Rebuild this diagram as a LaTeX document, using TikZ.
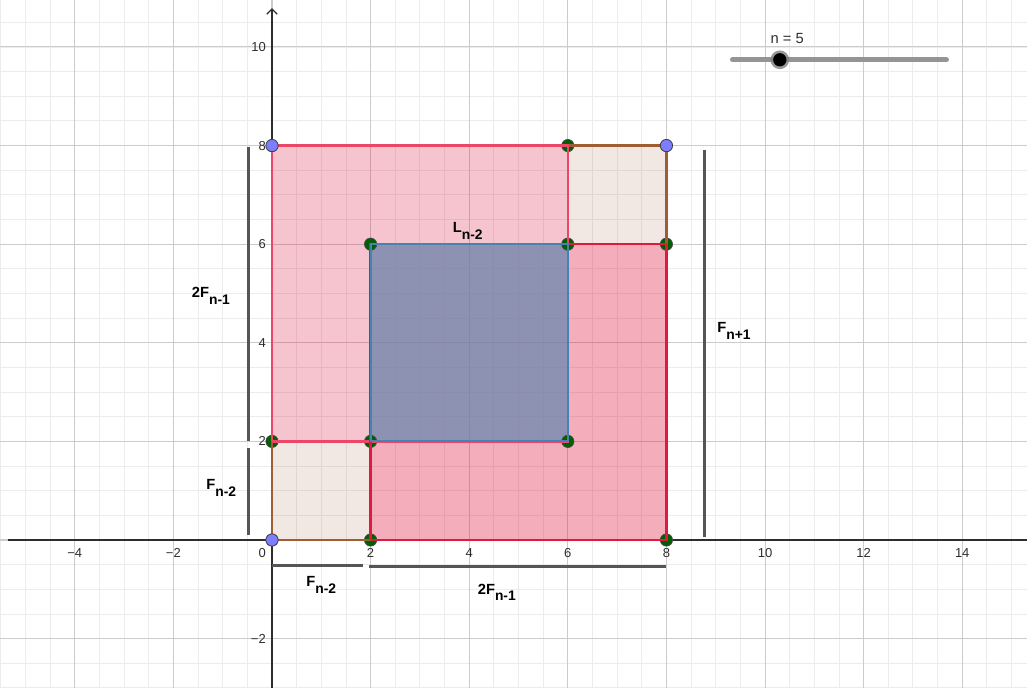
\documentclass[tikz,border=0pt]{standalone}
\usepackage{fontspec}
\setmainfont{Liberation Sans}
\usetikzlibrary{arrows.meta}
\definecolor{gminor}{RGB}{236,236,236}
\definecolor{gmajor}{RGB}{204,204,204}
\definecolor{tickgray}{RGB}{45,45,45}
\definecolor{crim}{RGB}{220,20,60}
\definecolor{edgered}{RGB}{225,25,60}
\definecolor{edgepink}{RGB}{236,70,105}
\definecolor{sienna}{RGB}{160,82,45}
\definecolor{edgebrown}{RGB}{160,92,50}
\definecolor{steel}{RGB}{70,130,180}
\definecolor{bluefill}{RGB}{80,153,193}
\definecolor{ptgreen}{RGB}{0,95,0}
\definecolor{ptblue}{RGB}{125,125,255}
\definecolor{dimgray}{RGB}{85,85,85}
\newcommand{\sublbl}[2]{#1\raisebox{-3.9pt}{\fontsize{8}{9}\selectfont #2}}

\begin{document}
\begin{tikzpicture}[
    ticklbl/.style={font=\fontsize{7.5}{9}\selectfont, text=tickgray, inner sep=0pt},
    lbl/.style={font=\fontsize{8.5}{10}\selectfont\bfseries, inner sep=0pt},
    dimline/.style={line width=1.7pt, draw=dimgray},
    gpt/.style={circle, fill=ptgreen, draw=black!70, line width=0.4pt, minimum size=0.25cm, inner sep=0pt},
    bpt/.style={circle, fill=ptblue, draw=black!75, line width=0.5pt, minimum size=0.25cm, inner sep=0pt}
  ]
  \useasboundingbox (-5.517,-3.002) rectangle (15.314,10.953);
  \draw[gminor, line width=0.5pt, step=0.5] (-5.517,-3.002) grid (15.314,10.953);
  \draw[gmajor, line width=0.6pt, step=2] (-5.517,-3.002) grid (15.314,10.953);
  \draw[tickgray, line width=0.8pt] (-5.355,0) -- (15.314,0);
  \draw[tickgray, line width=0.8pt, -{Straight Barb[length=3pt,width=6pt]}] (0,-3.002) -- (0,10.79);
  \foreach \x/\t in {-4/−4,-2/−2,2/2,4/4,6/6,8/8,10/10,12/12,14/14}
    \node[ticklbl] (tx\x) at (\x,-0.27) {\t};
  \node[ticklbl] (t0) at (-0.2,-0.27) {0};
  \foreach \y/\t in {-2/−2,2/2,4/4,6/6,8/8,10/10}
    \node[ticklbl, anchor=east] (ty\y) at (-0.12,\y) {\t};

  \coordinate (p00) at (0,0);
  \coordinate (p20) at (2,0);
  \coordinate (p80) at (8,0);
  \coordinate (p02) at (0,2);
  \coordinate (p22) at (2,2);
  \coordinate (p62) at (6,2);
  \coordinate (p26) at (2,6);
  \coordinate (p66) at (6,6);
  \coordinate (p86) at (8,6);
  \coordinate (p08) at (0,8);
  \coordinate (p68) at (6,8);
  \coordinate (p88) at (8,8);

  \fill[crim, fill opacity=0.25] (p02) rectangle (p68);
  \fill[crim, fill opacity=0.35] (p20) rectangle (p86);
  \fill[bluefill, fill opacity=0.6] (p22) rectangle (p66);
  \fill[sienna, fill opacity=0.135] (p00) rectangle (p22);
  \fill[sienna, fill opacity=0.135] (p66) rectangle (p88);

  \foreach \p in {p20,p80,p02,p22,p62,p26,p66,p86,p68}
    \node[gpt] (g\p) at (\p) {};

  \draw[edgebrown, line width=1.5pt] (p02) -- (p00) -- (p20);
  \draw[edgebrown, line width=1.5pt] (p68) -- (p88) -- (p86);
  \draw[edgepink, line width=1.4pt] (p02) -- (p08) -- (p68) -- (p62) -- (p02);
  \draw[edgered, line width=1.4pt] (p20) -- (p80) -- (p86) -- (p26) -- (p20);
  \draw[steel, line width=1.2pt] (p22) rectangle (p66);

  \foreach \p in {p00,p08,p88}
    \node[bpt] (b\p) at (\p) {};

  \coordinate (d1a) at (-0.47,7.98);
  \coordinate (d1b) at (-0.47,2.0);
  \coordinate (d2a) at (-0.48,1.87);
  \coordinate (d2b) at (-0.48,0.1);
  \coordinate (d3a) at (0,-0.51);
  \coordinate (d3b) at (1.84,-0.51);
  \coordinate (d4a) at (1.97,-0.53);
  \coordinate (d4b) at (7.99,-0.53);
  \coordinate (d5a) at (8.77,7.92);
  \coordinate (d5b) at (8.77,0.06);
  \draw[dimline] (d1a) -- (d1b);
  \draw[dimline] (d2a) -- (d2b);
  \draw[dimline] (d3a) -- (d3b);
  \draw[dimline] (d4a) -- (d4b);
  \draw[dimline] (d5a) -- (d5b);

  \node[lbl] (Lsq) at (3.97,6.27) {\sublbl{L}{n-2}};
  \node[lbl] (Fl) at (-1.24,4.95) {\sublbl{2F}{n-1}};
  \node[lbl] (Fls) at (-1.03,1.05) {\sublbl{F}{n-2}};
  \node[lbl] (Fbs) at (1.0,-0.91) {\sublbl{F}{n-2}};
  \node[lbl] (Fb) at (4.56,-1.06) {\sublbl{2F}{n-1}};
  \node[lbl] (Fr) at (9.37,4.24) {\sublbl{F}{n+1}};

  \coordinate (s1) at (9.34,9.74);
  \coordinate (s2) at (13.68,9.74);
  \draw[black!42, line width=2.9pt, line cap=round] (s1) -- (s2);
  \node[circle, fill=black!50, fill opacity=0.8, minimum size=0.38cm, inner sep=0pt] (knobh) at (10.3,9.74) {};
  \node[circle, fill=black, minimum size=0.27cm, inner sep=0pt] (knob) at (10.3,9.74) {};
  \node[font=\fontsize{8.5}{10}\selectfont, text=tickgray, inner sep=0pt] (nlbl) at (10.45,10.18) {n = 5};
\end{tikzpicture}
\end{document}
